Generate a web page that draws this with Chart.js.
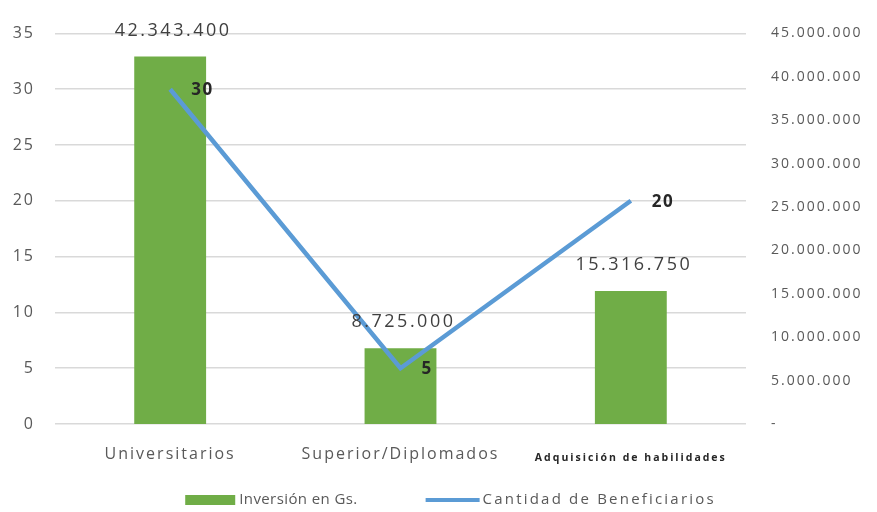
<!DOCTYPE html>
<html>
<head>
<meta charset="utf-8">
<script src="https://cdn.jsdelivr.net/npm/chart.js@4.4.1/dist/chart.umd.min.js"></script>
<style>
  html, body { margin: 0; padding: 0; background: #ffffff; }
  #wrap { width: 877px; height: 512px; }
</style>
</head>
<body>
<div id="wrap"><canvas id="c" width="877" height="512"></canvas></div>
<script>
// ---- Data ----
const categories = ['Universitarios', 'Superior/Diplomados', 'Adquisición de habilidades'];
const inversion = [42343400, 8725000, 15316750];      // Inversión en Gs. (right axis)
const beneficiarios = [30, 5, 20];                    // Cantidad de Beneficiarios (left axis)
const seriesNames = ['Inversión en Gs.', 'Cantidad de Beneficiarios'];
const leftTicks = [0, 5, 10, 15, 20, 25, 30, 35];
const rightTicks = [0, 5000000, 10000000, 15000000, 20000000, 25000000, 30000000, 35000000, 40000000, 45000000];

// ---- Styles ----
const FONT = "'Open Sans', 'DejaVu Sans', sans-serif";
const GREEN = '#70AD47';
const BLUE = '#5B9BD5';
const TEXT = '#595959';
const SPACING = '2px';

function fmt(v) {
  if (v === 0) return '-';
  return String(Math.round(v)).replace(/\B(?=(\d{3})+(?!\d))/g, '.');
}

const spacingPlugin = {
  id: 'spacing',
  beforeUpdate(chart) { chart.ctx.letterSpacing = SPACING; },
  beforeLayout(chart) { chart.ctx.letterSpacing = SPACING; },
  beforeDraw(chart) { chart.ctx.letterSpacing = SPACING; }
};

const labelsPlugin = {
  id: 'valueLabels',
  afterDatasetsDraw(chart) {
    const ctx = chart.ctx;
    ctx.save();
    // bar labels
    ctx.letterSpacing = '2.5px';
    const barMeta = chart.getDatasetMeta(1);
    ctx.font = "18px " + FONT;
    ctx.fillStyle = '#404040';
    ctx.textAlign = 'center';
    ctx.textBaseline = 'middle';
    barMeta.data.forEach((el, i) => {
      ctx.fillText(fmt(inversion[i]), el.x + 3, el.y - 26);
    });
    // line labels
    ctx.letterSpacing = '1.5px';
    const lineMeta = chart.getDatasetMeta(0);
    ctx.font = "bold 17px " + FONT;
    ctx.fillStyle = '#262626';
    ctx.textAlign = 'left';
    lineMeta.data.forEach((el, i) => {
      ctx.fillText(String(beneficiarios[i]), el.x + 21, el.y + 1);
    });
    ctx.restore();
  }
};

const legendPlugin = {
  id: 'customLegend',
  afterDraw(chart) {
    const ctx = chart.ctx;
    ctx.save();
    ctx.font = "15px " + FONT;
    const sp0 = '0.4px', sp1 = '2.2px';
    ctx.letterSpacing = sp0;
    const w0 = ctx.measureText(seriesNames[0]).width;
    ctx.letterSpacing = sp1;
    const w1 = ctx.measureText(seriesNames[1]).width;
    const boxW = 50, lineW = 54, gapText0 = 4, gapText1 = 3, gapItems = 68;
    const total = boxW + gapText0 + w0 + gapItems + lineW + gapText1 + w1;
    const cx = (chart.chartArea.left + chart.chartArea.right) / 2 + 50;
    let x = cx - total / 2;
    const y = 500;
    ctx.fillStyle = GREEN;
    ctx.fillRect(x, y - 5, boxW, 10);
    ctx.fillStyle = TEXT;
    ctx.textAlign = 'left';
    ctx.textBaseline = 'middle';
    ctx.letterSpacing = sp0;
    ctx.fillText(seriesNames[0], x + boxW + gapText0, y);
    x += boxW + gapText0 + w0 + gapItems;
    ctx.strokeStyle = BLUE;
    ctx.lineWidth = 4;
    ctx.beginPath();
    ctx.moveTo(x, y);
    ctx.lineTo(x + lineW, y);
    ctx.stroke();
    ctx.letterSpacing = sp1;
    ctx.fillText(seriesNames[1], x + lineW + gapText1, y);
    ctx.restore();
  }
};

new Chart(document.getElementById('c'), {
  type: 'bar',
  data: {
    labels: categories,
    datasets: [
      {
        type: 'line',
        label: seriesNames[1],
        data: beneficiarios,
        yAxisID: 'y',
        borderColor: BLUE,
        backgroundColor: BLUE,
        borderWidth: 4.5,
        pointRadius: 0,
        tension: 0,
        order: 1
      },
      {
        type: 'bar',
        label: seriesNames[0],
        data: inversion,
        yAxisID: 'y1',
        backgroundColor: GREEN,
        borderWidth: 0,
        categoryPercentage: 0.8,
        barPercentage: 0.39,
        order: 2
      }
    ]
  },
  options: {
    responsive: false,
    animation: false,
    devicePixelRatio: 1,
    layout: { padding: { top: 30, bottom: 40, left: 0, right: 0 } },
    plugins: {
      legend: { display: false },
      tooltip: { enabled: false },
      title: { display: false }
    },
    scales: {
      x: {
        grid: { display: false, drawTicks: false, tickLength: 0 },
        border: { display: false },
        afterFit(scale) { scale.height = 48; },
        ticks: {
          padding: 21,
          color: (c) => c.index === 2 ? '#262626' : TEXT,
          font: (c) => c.index === 2
            ? { family: FONT, size: 10.5, weight: 'bold', lineHeight: 2.4 }
            : { family: FONT, size: 16 }
        }
      },
      y: {
        position: 'left',
        min: 0,
        max: 35,
        afterFit(scale) { scale.width = 55; },
        afterBuildTicks(scale) { scale.ticks = leftTicks.map(v => ({ value: v })); },
        grid: { color: '#d9d9d9', lineWidth: 1.5, drawTicks: false, tickLength: 0 },
        border: { display: false },
        ticks: { padding: 20, color: TEXT, font: { family: FONT, size: 16 } }
      },
      y1: {
        position: 'right',
        min: 0,
        max: 45000000,
        afterFit(scale) { scale.width = 131; },
        afterBuildTicks(scale) { scale.ticks = rightTicks.map(v => ({ value: v })); },
        grid: { display: false, drawTicks: false, tickLength: 0 },
        border: { display: false },
        ticks: {
          padding: 25,
          color: TEXT,
          font: { family: FONT, size: 14 },
          callback: (v) => fmt(v)
        }
      }
    }
  },
  plugins: [spacingPlugin, labelsPlugin, legendPlugin]
});
</script>
</body>
</html>
